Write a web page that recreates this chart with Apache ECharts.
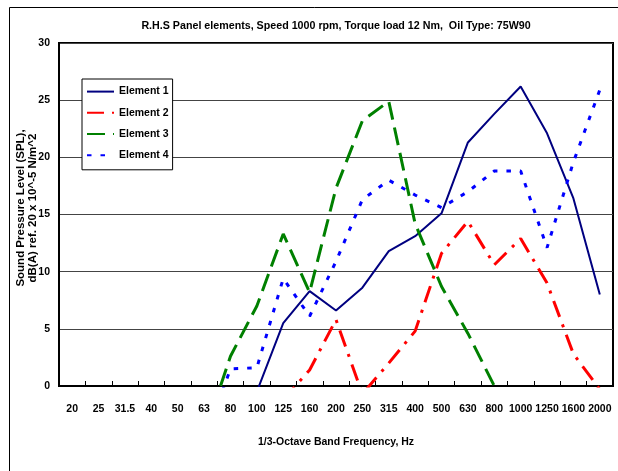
<!DOCTYPE html>
<html>
<head>
<meta charset="utf-8">
<script src="https://cdn.jsdelivr.net/npm/echarts@6/dist/echarts.min.js"></script>
<style>
  html, body { margin: 0; padding: 0; background: #fff; }
  #chart { width: 618px; height: 471px; }
</style>
</head>
<body>
<div id="chart"></div>
<script>
// 1/3-octave band centre frequencies
const bands = ["20", "25", "31.5", "40", "50", "63", "80", "100", "125", "160", "200",
  "250", "315", "400", "500", "630", "800", "1000", "1250", "1600", "2000"];

// SPL per band, dB(A); values below 0 are clipped by the axis like the original
const element1 = [null, null, null, null, null, null, null, -0.5, 5.5, 8.3, 6.6,
  8.6, 11.8, 13.1, 15.1, 21.3, 23.8, 26.2, 22.1, 16.4, 8.0];
const element2 = [null, null, null, null, null, null, null, null, -1.2, 1.4, 5.8,
  -0.7, 2.0, 4.8, 11.6, 14.4, 10.6, 12.9, 9.0, 2.8, -0.3];
const element3 = [null, null, null, null, null, -4.3, 2.6, 7.0, 13.3, 8.2, 17.3,
  23.2, 24.9, 14.2, 8.7, 4.6, 0, null, null, null, null];
const element4 = [null, null, null, null, null, -4.9, 1.5, 1.6, 9.4, 6.1, 10.9,
  16.3, 18.0, 16.7, 15.6, 17.0, 18.8, 18.8, 12.1, 19.6, 25.9];

const yTicks = { min: 0, max: 30, step: 5 };

const font = "'Liberation Sans', Arial, sans-serif";
const labelSize = 10.5;

const seriesDefs = [
  { name: "Element 1", data: element1, color: "#000080", width: 2, dash: "solid" },
  { name: "Element 2", data: element2, color: "#ff0000", width: 3, dash: [17, 8, 3, 8] },
  { name: "Element 3", data: element3, color: "#008000", width: 3, dash: [18, 8] },
  { name: "Element 4", data: element4, color: "#0000ff", width: 3, dash: [4.5, 9] },
];

const myChart = echarts.init(document.getElementById("chart"));

const option = {
  backgroundColor: "#fff",
  animation: false,
  title: {
    text: "R.H.S Panel elements, Speed 1000 rpm, Torque load 12 Nm,  Oil Type: 75W90",
    left: 331,
    top: 16,
    textAlign: "center",
    textStyle: { fontFamily: font, fontSize: 10.7, fontWeight: "bold", color: "#000" },
  },
  graphic: [
    {
      type: "rect",
      shape: { x: 9.5, y: 7.5, width: 700, height: 600 },
      style: { fill: "none", stroke: "#000", lineWidth: 1 },
      silent: true,
    },
    {
      // y-axis title, two lines reading bottom to top
      type: "text",
      x: 27,
      y: 208,
      rotation: Math.PI / 2,
      silent: true,
      style: {
        text: "Sound Pressure Level (SPL),\ndB(A) ref. 20 x 10^-5 N/m^2",
        fontFamily: font,
        fontSize: 11.5,
        fontWeight: "bold",
        lineHeight: 12.5,
        fill: "#000",
        align: "center",
        verticalAlign: "middle",
      },
    },
  ],
  legend: {
    orient: "vertical",
    left: 82,
    top: 79,
    padding: [7, 4, 9, 4],
    itemWidth: 27,
    itemHeight: 14,
    itemGap: 10,
    backgroundColor: "#fff",
    borderColor: "#000",
    borderWidth: 1,
    borderRadius: 0,
    itemStyle: { opacity: 0 },
    textStyle: { fontFamily: font, fontSize: labelSize, fontWeight: "bold", color: "#000" },
    data: seriesDefs.map((s) => s.name),
  },
  grid: {
    left: 59,
    right: 5,
    top: 43,
    bottom: 85,
    show: true,
    borderColor: "#000",
    borderWidth: 2,
    backgroundColor: "transparent",
    containLabel: false,
  },
  xAxis: {
    type: "category",
    data: bands,
    boundaryGap: true,
    name: "1/3-Octave Band Frequency, Hz",
    nameLocation: "middle",
    nameGap: 51,
    nameTextStyle: { fontFamily: font, fontSize: labelSize, fontWeight: "bold", color: "#000" },
    axisLine: { lineStyle: { color: "#000", width: 2 } },
    axisTick: { show: true, inside: true, length: 5, alignWithLabel: false, lineStyle: { color: "#000" } },
    axisLabel: {
      interval: 0,
      margin: 18,
      fontFamily: font,
      fontSize: labelSize,
      fontWeight: "bold",
      color: "#000",
    },
    splitLine: { show: false },
  },
  yAxis: {
    type: "value",
    min: yTicks.min,
    max: yTicks.max,
    interval: yTicks.step,
    axisLine: { show: true, lineStyle: { color: "#000", width: 2 } },
    axisTick: { show: false },
    axisLabel: { margin: 9, fontFamily: font, fontSize: labelSize, fontWeight: "bold", color: "#000" },
    splitLine: { show: true, lineStyle: { color: "#444", width: 1 } },
  },
  series: seriesDefs.map((s) => ({
    name: s.name,
    type: "line",
    data: s.data,
    symbol: "none",
    connectNulls: false,
    clip: true,
    color: s.color,
    lineStyle: { color: s.color, width: s.width, type: s.dash },
  })),
};

myChart.setOption(option);
</script>
</body>
</html>
